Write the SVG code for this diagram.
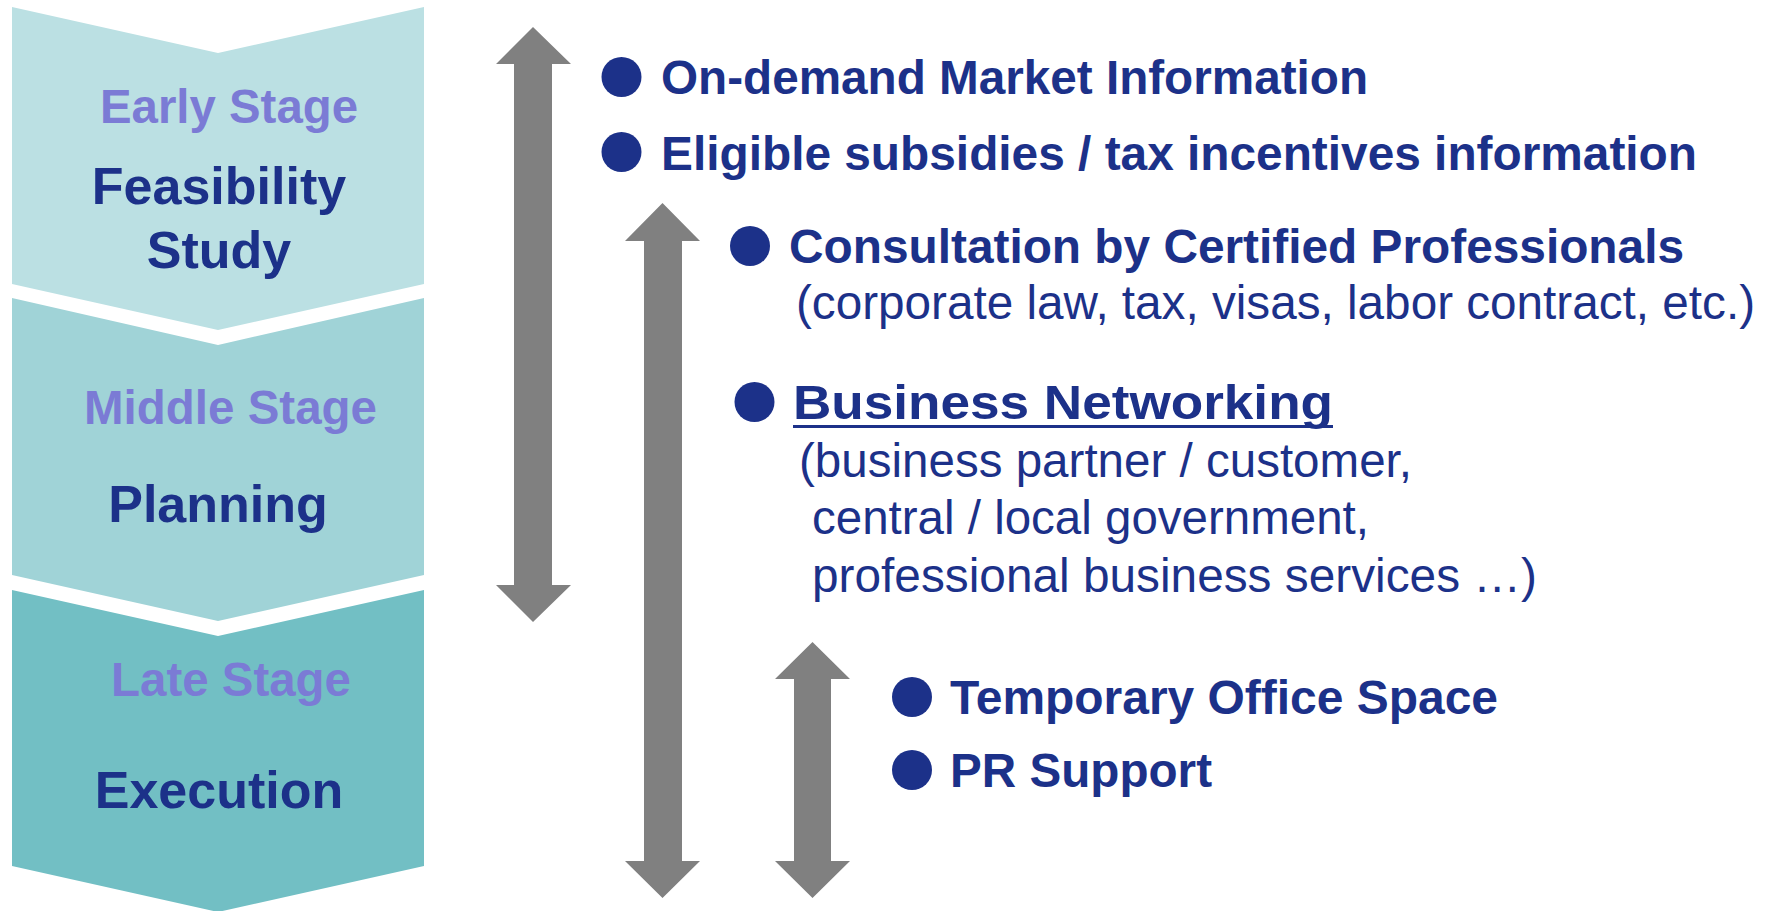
<svg xmlns="http://www.w3.org/2000/svg" width="1765" height="911" viewBox="0 0 1765 911">
<style>
.stage{font-family:"Liberation Sans",Arial,sans-serif;font-weight:bold;font-size:48px;fill:#7B7BD5}
.phase{font-family:"Liberation Sans",Arial,sans-serif;font-weight:bold;font-size:52px;fill:#1C3189;text-anchor:middle}
.b{font-family:"Liberation Sans",Arial,sans-serif;font-weight:bold;font-size:48px;fill:#1C3189}
.r{font-family:"Liberation Sans",Arial,sans-serif;font-size:48px;fill:#1C3189}
.dot{fill:#1C3189}
.arrow{fill:#808080}
</style>
<rect width="1765" height="911" fill="#FFFFFF"/>
<g id="stage-early">
<path d="M12,7 L218,53 L424,7 L424,284 L218,330 L12,284 Z" fill="#BBE0E3"/>
<text class="stage" x="100" y="123" textLength="258" lengthAdjust="spacingAndGlyphs">Early Stage</text>
<text class="phase" x="219" y="204">Feasibility</text>
<text class="phase" x="219" y="268">Study</text>
</g>
<g id="stage-middle">
<path d="M12,298 L218,345 L424,298 L424,575 L218,621 L12,575 Z" fill="#A0D3D7"/>
<text class="stage" x="84" y="424" textLength="293" lengthAdjust="spacingAndGlyphs">Middle Stage</text>
<text class="phase" x="218" y="522">Planning</text>
</g>
<g id="stage-late">
<path d="M12,590 L218,636 L424,590 L424,866 L218,912 L12,866 Z" fill="#72BFC4"/>
<text class="stage" x="111" y="696" textLength="240" lengthAdjust="spacingAndGlyphs">Late Stage</text>
<text class="phase" x="219" y="808">Execution</text>
</g>
<g id="connectors">
<path class="arrow" d="M533,27 L571,64 L552,64 L552,585 L571,585 L533,622 L496,585 L514,585 L514,64 L496,64 Z"/>
<path class="arrow" d="M662.5,203 L700,241 L682,241 L682,861 L700,861 L662.5,898 L625,861 L644,861 L644,241 L625,241 Z"/>
<path class="arrow" d="M812.5,642 L850,679 L831,679 L831,861 L850,861 L812.5,898 L775,861 L794,861 L794,679 L775,679 Z"/>
</g>
<g id="item-market">
<circle class="dot" cx="621.5" cy="77" r="20"/>
<text class="b" x="661" y="94" textLength="707" lengthAdjust="spacingAndGlyphs">On-demand Market Information</text>
</g>
<g id="item-subsidies">
<circle class="dot" cx="621.5" cy="152" r="20"/>
<text class="b" x="661" y="170" textLength="1036" lengthAdjust="spacingAndGlyphs">Eligible subsidies / tax incentives information</text>
</g>
<g id="item-consultation">
<circle class="dot" cx="750" cy="246" r="20"/>
<text class="b" x="789" y="263" textLength="895" lengthAdjust="spacingAndGlyphs">Consultation by Certified Professionals</text>
<text class="r" x="796" y="319" textLength="959" lengthAdjust="spacingAndGlyphs">(corporate law, tax, visas, labor contract, etc.)</text>
</g>
<g id="item-networking">
<circle class="dot" cx="754.5" cy="402" r="20"/>
<text class="b" x="793" y="419" font-size="53" textLength="540" lengthAdjust="spacingAndGlyphs">Business Networking</text>
<rect x="793" y="425" width="540" height="3" fill="#1C3189"/>
<text class="r" x="799" y="477" textLength="613" lengthAdjust="spacingAndGlyphs">(business partner / customer,</text>
<text class="r" x="812" y="534" textLength="557" lengthAdjust="spacingAndGlyphs">central / local government,</text>
<text class="r" x="812" y="592" textLength="725" lengthAdjust="spacingAndGlyphs">professional business services …)</text>
</g>
<g id="item-office">
<circle class="dot" cx="912" cy="697" r="20"/>
<text class="b" x="950" y="714" textLength="548" lengthAdjust="spacingAndGlyphs">Temporary Office Space</text>
</g>
<g id="item-pr">
<circle class="dot" cx="912" cy="770" r="20"/>
<text class="b" x="950" y="787" textLength="262" lengthAdjust="spacingAndGlyphs">PR Support</text>
</g>
</svg>
